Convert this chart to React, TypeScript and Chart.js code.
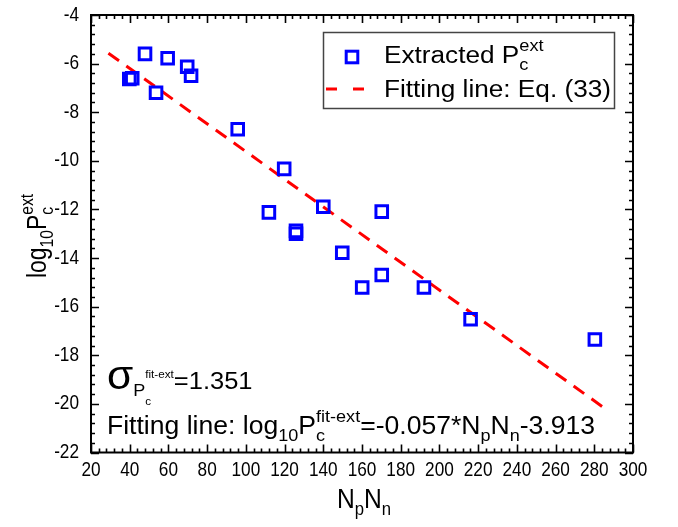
import React, { useEffect, useRef } from "react";
import { Chart, registerables } from "chart.js";
Chart.register(...registerables);

const extractedX = [39.8, 41.3, 47.9, 53.6, 59.6, 69.7, 71.7, 95.8, 119.8, 111.9, 125.9, 125.9, 140.0, 149.8, 160.1, 170.2, 170.2, 192.0, 216.1, 280.3];
const extractedY = [-6.63, -6.6, -5.6, -7.2, -5.78, -6.13, -6.5, -8.7, -10.33, -12.12, -12.88, -13.0, -11.89, -13.78, -15.21, -12.09, -14.7, -15.21, -16.52, -17.35];
const fitX = [29, 285];
const fitY = [-5.57, -20.16];
const xMin = 20, xMax = 300, xStep = 20, xMinorStep = 4;
const yMin = -22, yMax = -4, yStep = 2, yMinorStep = 0.4;

const FONT = '"Liberation Sans", Arial, sans-serif';

type Seg = { t?: string; s: number; dy?: number; sup?: string; sub?: string; supS?: number; subS?: number; supDy?: number; subDy?: number };

function segWidth(ctx: CanvasRenderingContext2D, g: Seg) {
  if (g.t !== undefined) {
    ctx.font = `${g.s}px ${FONT}`;
    return ctx.measureText(g.t).width;
  }
  ctx.font = `${g.supS || g.s}px ${FONT}`;
  const a = g.sup ? ctx.measureText(g.sup).width : 0;
  ctx.font = `${g.subS || g.s}px ${FONT}`;
  const b = g.sub ? ctx.measureText(g.sub).width : 0;
  return Math.max(a, b);
}
function richWidth(ctx: CanvasRenderingContext2D, segs: Seg[]) {
  return segs.reduce((w, g) => w + segWidth(ctx, g), 0);
}
function drawRich(ctx: CanvasRenderingContext2D, segs: Seg[], x: number, y: number, sx: number) {
  ctx.save();
  ctx.translate(x, y);
  ctx.scale(sx, 1);
  ctx.fillStyle = "#000";
  ctx.textAlign = "left";
  ctx.textBaseline = "alphabetic";
  let c = 0;
  for (const g of segs) {
    const w = segWidth(ctx, g);
    if (g.t !== undefined) {
      ctx.font = `${g.s}px ${FONT}`;
      ctx.fillText(g.t, c, g.dy || 0);
    } else {
      if (g.sup) {
        ctx.font = `${g.supS || g.s}px ${FONT}`;
        ctx.fillText(g.sup, c, g.supDy || 0);
      }
      if (g.sub) {
        ctx.font = `${g.subS || g.s}px ${FONT}`;
        ctx.fillText(g.sub, c, g.subDy || 0);
      }
    }
    c += w;
  }
  ctx.restore();
}

const decorPlugin = {
  id: "decor",
  afterDraw(chart: any) {
    const ctx: CanvasRenderingContext2D = chart.ctx;
    const xs = chart.scales.x;
    const ys = chart.scales.y;
    const { left, right, top, bottom } = chart.chartArea;
    ctx.save();
    // frame
    ctx.strokeStyle = "#000";
    ctx.lineWidth = 2;
    ctx.strokeRect(left, top, right - left, bottom - top);
    // ticks
    ctx.lineWidth = 1.6;
    ctx.beginPath();
    for (let v = xMin; v <= xMax + 1e-9; v += xMinorStep) {
      const p = Math.round(xs.getPixelForValue(v)) + 0.5;
      const major = Math.abs((v - xMin) % xStep) < 1e-6;
      const len = major ? 8 : 4;
      ctx.moveTo(p, bottom); ctx.lineTo(p, bottom - len);
      ctx.moveTo(p, top); ctx.lineTo(p, top + len);
    }
    for (let i = 0; i <= Math.round((yMax - yMin) / yMinorStep); i++) {
      const v = yMin + i * yMinorStep;
      const p = Math.round(ys.getPixelForValue(v)) + 0.5;
      const major = i % Math.round(yStep / yMinorStep) === 0;
      const len = major ? 8 : 4;
      ctx.moveTo(left, p); ctx.lineTo(left + len, p);
      ctx.moveTo(right, p); ctx.lineTo(right - len, p);
    }
    ctx.stroke();
    // tick labels
    const tsx = 0.86;
    ctx.fillStyle = "#000";
    ctx.font = `20px ${FONT}`;
    ctx.textBaseline = "middle";
    for (const t of xs.ticks) {
      const p = xs.getPixelForValue(t.value);
      ctx.save();
      ctx.translate(p, bottom + 18);
      ctx.scale(tsx, 1);
      ctx.textAlign = "center";
      ctx.fillText(String(t.value), 0, 0);
      ctx.restore();
    }
    for (const t of ys.ticks) {
      const p = ys.getPixelForValue(t.value);
      ctx.save();
      ctx.translate(left - 12, p);
      ctx.scale(tsx, 1);
      ctx.textAlign = "right";
      ctx.fillText(String(t.value), 0, 0);
      ctx.restore();
    }
    // axis titles
    const xt: Seg[] = [
      { t: "N", s: 28 }, { t: "p", s: 19, dy: 7 }, { t: "N", s: 28 }, { t: "n", s: 19, dy: 7 },
    ];
    const xw = richWidth(ctx, xt) * 0.88;
    drawRich(ctx, xt, (left + right) / 2 - xw / 2 + 2, 508, 0.88);
    const yt: Seg[] = [
      { t: "log", s: 28 }, { t: "10", s: 19, dy: 7 }, { t: "P", s: 28 },
      { s: 19, sup: "ext", sub: "c", supDy: -13, subDy: 7 },
    ];
    const yw = richWidth(ctx, yt) * 0.82;
    ctx.save();
    ctx.translate(46, 236);
    ctx.rotate(-Math.PI / 2);
    drawRich(ctx, yt, -yw / 2, 0, 0.82);
    ctx.restore();
    // legend
    ctx.strokeStyle = "#444";
    ctx.lineWidth = 1.5;
    ctx.strokeRect(323.5, 32.5, 291, 76);
    const ds0 = chart.data.datasets[0];
    const ds1 = chart.data.datasets[1];
    ctx.strokeStyle = ds0.borderColor;
    ctx.lineWidth = ds0.borderWidth;
    const ms = ds0.pointRadius * Math.SQRT1_2;
    ctx.strokeRect(352 - ms, 57 - ms, 2 * ms, 2 * ms);
    ctx.strokeStyle = ds1.borderColor;
    ctx.lineWidth = ds1.borderWidth;
    ctx.setLineDash([11, 16]);
    ctx.beginPath();
    ctx.moveTo(326, 89); ctx.lineTo(367, 89);
    ctx.stroke();
    ctx.setLineDash([]);
    const l1: Seg[] = [{ t: "Extracted P", s: 23 }, { s: 16, sup: "ext", sub: "c", supDy: -12, subDy: 7 }];
    const l2: Seg[] = [{ t: "Fitting line: Eq. (33)", s: 23 }];
    const lsx = 227 / richWidth(ctx, l2);
    drawRich(ctx, l1, 384, 63, lsx);
    drawRich(ctx, l2, 384, 97, lsx);
    // annotations
    const a2: Seg[] = [
      { t: "Fitting line: log", s: 25 }, { t: "10", s: 17, dy: 7 }, { t: "P", s: 25 },
      { s: 17, sup: "fit-ext", sub: "c", supDy: -12, subDy: 7 },
      { t: "=-0.057*N", s: 25 }, { t: "p", s: 17, dy: 7 }, { t: "N", s: 25 }, { t: "n", s: 17, dy: 7 },
      { t: "-3.913", s: 25 },
    ];
    const asx = 488 / richWidth(ctx, a2);
    drawRich(ctx, a2, 107, 434, asx);
    const a1: Seg[] = [
      { t: "σ", s: 40 }, { t: "P", s: 17, dy: 7 },
      { s: 11, sup: "fit-ext", sub: "c", supDy: -11, subDy: 16 },
      { t: "=1.351", s: 24 },
    ];
    drawRich(ctx, a1, 107, 389, asx);
    ctx.restore();
  },
};

export default function App() {
  const ref = useRef<HTMLCanvasElement>(null);
  useEffect(() => {
    document.body.style.margin = "0";
    const chart = new Chart(ref.current!, {
      type: "scatter",
      data: {
        datasets: [
          {
            label: "Extracted",
            data: extractedX.map((x, i) => ({ x, y: extractedY[i] })),
            pointStyle: "rect",
            pointRadius: 8.2,
            pointHoverRadius: 8.2,
            borderColor: "#0000ff",
            backgroundColor: "rgba(0,0,0,0)",
            borderWidth: 3,
            pointBorderWidth: 3,
          } as any,
          {
            type: "line",
            label: "Fitting line",
            data: fitX.map((x, i) => ({ x, y: fitY[i] })),
            borderColor: "#ff0000",
            borderWidth: 3,
            borderDash: [13, 9],
            pointRadius: 0,
            showLine: true,
            fill: false,
          } as any,
        ],
      },
      options: {
        animation: false,
        responsive: false,
        events: [],
        layout: { padding: { left: 91, right: 45, top: 15, bottom: 74.5 } },
        plugins: { legend: { display: false }, tooltip: { enabled: false } },
        scales: {
          x: {
            type: "linear", min: xMin, max: xMax,
            ticks: { display: false, stepSize: xStep },
            grid: { display: false, drawTicks: false },
            border: { display: false },
          },
          y: {
            type: "linear", min: yMin, max: yMax,
            ticks: { display: false, stepSize: yStep },
            grid: { display: false, drawTicks: false },
            border: { display: false },
          },
        },
      },
      plugins: [decorPlugin],
    });
    return () => chart.destroy();
  }, []);
  return <canvas ref={ref} width={678} height={527} style={{ display: "block" }} />;
}
